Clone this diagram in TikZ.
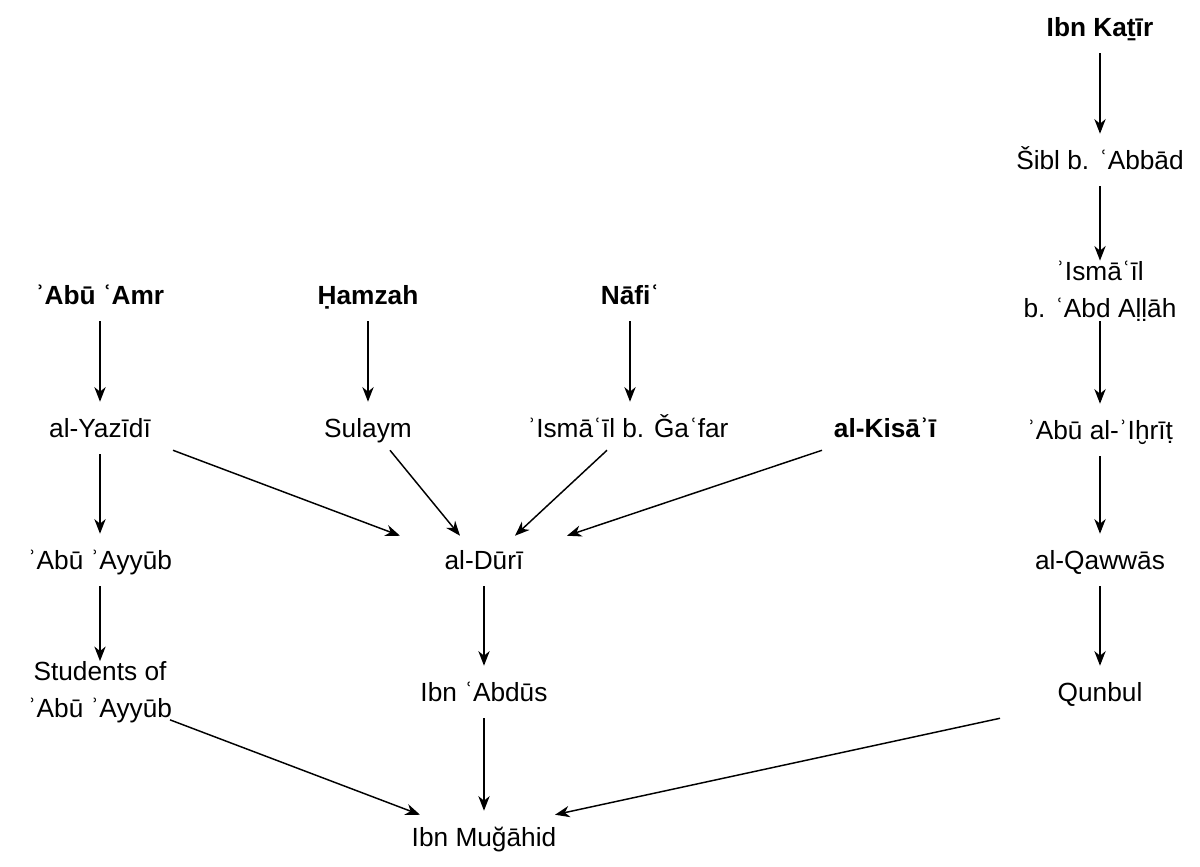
\documentclass[tikz,border=0pt]{standalone}
\usepackage{fontspec}
\setmainfont{Liberation Sans}
\usetikzlibrary{calc,arrows.meta}
\begin{document}
\begin{tikzpicture}[x=0.75pt,y=-0.75pt,
  lbl/.style={font=\fontsize{19.7}{27.5}\selectfont, inner sep=0pt, minimum height=39pt, align=center, text height=16.4pt, text depth=2pt},
  two/.style={minimum height=44pt, text height=, text depth=},
  bold/.style={font=\fontsize{19.7}{27.5}\selectfont\bfseries},
  arr/.style={-{Stealth[length=11pt,width=8.5pt,inset=3.5pt]}, line width=1.1pt}]
\useasboundingbox (0,0) rectangle (1200,867);
% right column
\node[lbl,bold] (katir) at (1100,27) {Ibn Kaṯīr};
\node[lbl] (sibl) at (1100,160) {Šibl b. ʿAbbād};
\node[lbl,two] (ismabd) at (1100,291) {ʾIsmāʿīl\\b. ʿAbd Aḷḷāh};
\node[lbl] (ihrit) at (1100,430) {ʾAbū al-ʾIḫrīṭ};
\node[lbl] (qawwas) at (1100,560) {al-Qawwās};
\node[lbl] (qunbul) at (1100,692) {Qunbul};
% top row
\node[lbl,bold] (amr) at (100,295) {ʾAbū ʿAmr};
\node[lbl,bold] (hamzah) at (368,295) {Ḥamzah};
\node[lbl,bold] (nafi) at (630,295) {Nāfiʿ};
% second row
\node[lbl] (yazidi) at (100,428) {al-Yazīdī};
\node[lbl] (sulaym) at (368,428) {Sulaym};
\node[lbl] (ismgafar) at (628,428) {ʾIsmāʿīl b. Ǧaʿfar};
\node[lbl,bold] (kisai) at (885,428) {al-Kisāʾī};
% third row
\node[lbl] (ayyub) at (100,560) {ʾAbū ʾAyyūb};
\node[lbl] (duri) at (484,560) {al-Dūrī};
% fourth row
\node[lbl,two] (students) at (100,692) {Students of\\ʾAbū ʾAyyūb};
\node[lbl] (abdus) at (484,692) {Ibn ʿAbdūs};
% bottom
\node[lbl] (mugahid) at (484,837) {Ibn Muğāhid};
% arrows
\draw[arr] (katir.south) -- (sibl.north);
\draw[arr] (sibl.south) -- (ismabd.north);
\draw[arr] (ismabd.south) -- (ihrit.north);
\draw[arr] (ihrit.south) -- (qawwas.north);
\draw[arr] (qawwas.south) -- (qunbul.north);
\draw[arr] (amr.south) -- (yazidi.north);
\draw[arr] (hamzah.south) -- (sulaym.north);
\draw[arr] (nafi.south) -- (nafi.south |- ismgafar.north);
\draw[arr] (yazidi.south) -- (ayyub.north);
\draw[arr] (ayyub.south) -- (students.north);
\draw[arr] (duri.south) -- (abdus.north);
\draw[arr] (abdus.south) -- (mugahid.north);
\draw[arr] ($(yazidi.south)+(73,-4)$) -- ($(duri.north)+(-84,2)$);
\draw[arr] ($(sulaym.south)+(22,-4)$) -- ($(duri.north)+(-24,2)$);
\draw[arr] ($(ismgafar.south)+(-21,-4)$) -- ($(duri.north)+(31,2)$);
\draw[arr] ($(kisai.south)+(-63,-4)$) -- ($(duri.north)+(83,2)$);
\draw[arr] ($(students.south)+(70,-3)$) -- ($(mugahid.north)+(-64,4)$);
\draw[arr] ($(qunbul.south)+(-100,0)$) -- ($(mugahid.north)+(71,4)$);
\end{tikzpicture}
\end{document}
